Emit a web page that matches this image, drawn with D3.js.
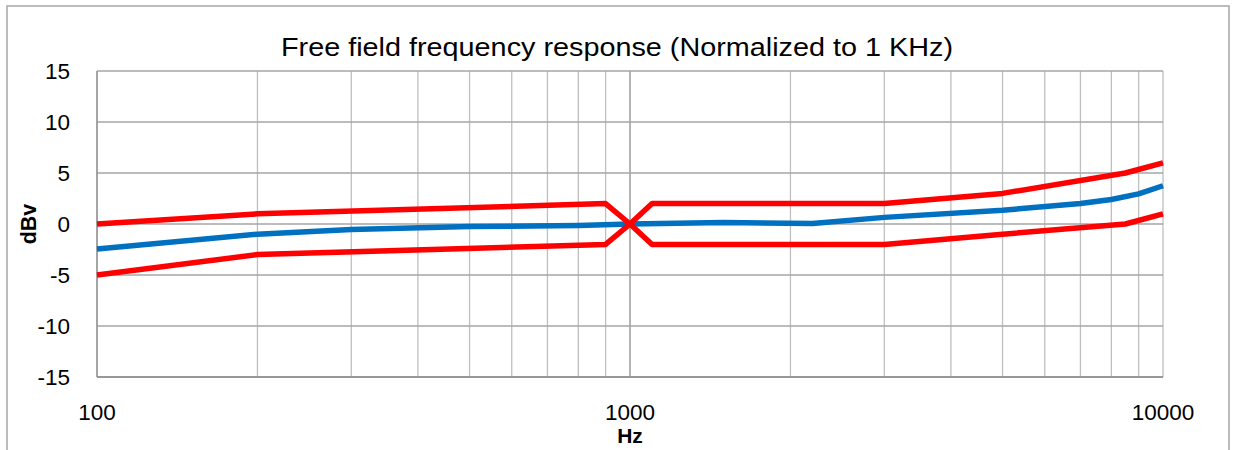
<!DOCTYPE html>
<html><head><meta charset="utf-8">
<script src="https://cdnjs.cloudflare.com/ajax/libs/d3/7.8.5/d3.min.js"></script>
<style>body{margin:0;background:#fff}svg{display:block}</style>
</head><body>
<script>
const title = "Free field frequency response (Normalized to 1 KHz)";
const xLabel = "Hz";
const yLabel = "dBv";
const yTicks = [-15, -10, -5, 0, 5, 10, 15];
const xTickLabels = [100, 1000, 10000];

const measuredFreq = [100, 200, 300, 500, 800, 1000, 1500, 2200, 3000, 5000, 7000, 8000, 9000, 10000];
const measuredDb   = [-2.45, -1.0, -0.55, -0.25, -0.15, 0, 0.15, 0.05, 0.65, 1.35, 2.0, 2.4, 2.95, 3.75];

const upperFreq = [100, 200, 900, 1000, 1100, 3000, 5000, 8500, 10000];
const upperDb   = [0, 1, 2, 0, 2, 2, 3, 5, 6];
const lowerFreq = [100, 200, 900, 1000, 1100, 3000, 5000, 8500, 10000];
const lowerDb   = [-5, -3, -2, 0, -2, -2, -1, 0, 1];

(function () {
const W = 1233, H = 450;
const svg = d3.select("body").append("svg").attr("width", W).attr("height", H);
const pL = 97, pR = 1163, pT = 71, pB = 377;
const x = d3.scaleLog().domain([100, 10000]).range([pL, pR]);
const y = d3.scaleLinear().domain([-15, 15]).range([pB, pT]);
const font = "'Liberation Sans', Arial, sans-serif";

// outer border
svg.append("rect").attr("x", 7).attr("y", 6).attr("width", 1222).attr("height", 460)
  .attr("fill", "#fff").attr("stroke", "#a6a6a6").attr("stroke-width", 1.5);

// vertical grid
const minor = [];
for (let d = 100; d < 10000; d *= 10) for (let k = 1; k <= 9; k++) minor.push(d * k);
minor.push(10000);
svg.append("g").selectAll("line").data(minor).join("line")
  .attr("x1", d => x(d)).attr("x2", d => x(d)).attr("y1", pT).attr("y2", pB)
  .attr("stroke", d => d === 1000 ? "#8c8c8c" : "#bfbfbf").attr("stroke-width", 1.3);

// horizontal grid
svg.append("g").selectAll("line").data(yTicks).join("line")
  .attr("x1", pL).attr("x2", pR).attr("y1", d => y(d)).attr("y2", d => y(d))
  .attr("stroke", "#a6a6a6").attr("stroke-width", 1.3);

// left & bottom borders
svg.append("line").attr("x1", pL).attr("x2", pL).attr("y1", pT).attr("y2", pB)
  .attr("stroke", "#8c8c8c").attr("stroke-width", 1.3);
svg.append("line").attr("x1", pL).attr("x2", pR).attr("y1", pB).attr("y2", pB)
  .attr("stroke", "#8c8c8c").attr("stroke-width", 1.3);

// y tick labels
svg.append("g").selectAll("text").data(yTicks).join("text")
  .attr("x", 70).attr("y", d => y(d)).attr("dy", "0.35em").attr("text-anchor", "end")
  .attr("font-family", font).attr("font-size", 22.5).attr("fill", "#000").text(d => d);

// x tick labels
svg.append("g").selectAll("text").data(xTickLabels).join("text")
  .attr("x", d => x(d)).attr("y", 412).attr("dy", "0.35em").attr("text-anchor", "middle")
  .attr("font-family", font).attr("font-size", 22.5).attr("fill", "#000").text(d => d);

// axis titles
svg.append("text").attr("x", x(1000)).attr("y", 436).attr("dy", "0.35em").attr("text-anchor", "middle")
  .attr("font-family", font).attr("font-size", 21).attr("font-weight", "bold").text(xLabel);
svg.append("text").attr("transform", `translate(28,${y(0)}) rotate(-90)`).attr("dy", "0.35em")
  .attr("text-anchor", "middle").attr("font-family", font).attr("font-size", 21.5)
  .attr("font-weight", "bold").text(yLabel);

// title
svg.append("text").attr("x", 617).attr("y", 47).attr("dy", "0.35em").attr("text-anchor", "middle")
  .attr("font-family", font).attr("font-size", 25).attr("textLength", 672)
  .attr("lengthAdjust", "spacingAndGlyphs").text(title);

const line = d3.line().x(d => x(d[0])).y(d => y(d[1]));
const zip = (a, b) => a.map((v, i) => [v, b[i]]);

svg.append("path").datum(zip(measuredFreq, measuredDb)).attr("d", line)
  .attr("fill", "none").attr("stroke", "#0070c0").attr("stroke-width", 5.5).attr("stroke-linejoin", "round");
svg.append("path").datum(zip(upperFreq, upperDb)).attr("d", line)
  .attr("fill", "none").attr("stroke", "#ff0000").attr("stroke-width", 5.5).attr("stroke-linejoin", "round");
svg.append("path").datum(zip(lowerFreq, lowerDb)).attr("d", line)
  .attr("fill", "none").attr("stroke", "#ff0000").attr("stroke-width", 5.5).attr("stroke-linejoin", "round");
})();
</script>
</body></html>
